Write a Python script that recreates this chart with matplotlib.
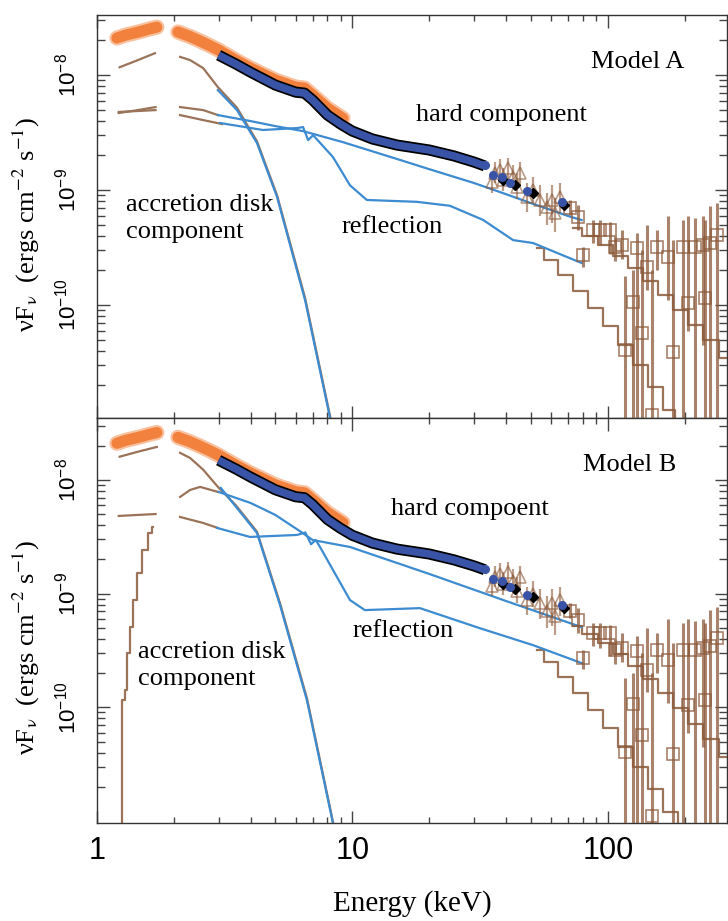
import numpy as np
import matplotlib
matplotlib.use('Agg')
import matplotlib.pyplot as plt
from matplotlib.ticker import FixedLocator, LogLocator, NullFormatter, FuncFormatter

plt.rcParams['font.family'] = ['Liberation Sans', 'DejaVu Sans']
plt.rcParams['axes.linewidth'] = 1.0

# ---------------- data (shared by both panels) ----------------
# soft X-ray data (orange band), two segments
soft1_x = [1.20, 1.30, 1.40, 1.50, 1.60, 1.72]
soft1_y = [2.10e-8, 2.23e-8, 2.32e-8, 2.41e-8, 2.51e-8, 2.61e-8]
soft2_x = [2.08, 2.3, 2.5, 2.75, 3.0, 3.5, 4.0, 5.0, 6.0, 6.5, 7.0, 8.0, 9.2]
soft2_y = [2.37e-8, 2.18e-8, 2.01e-8, 1.82e-8, 1.65e-8, 1.35e-8, 1.15e-8,
           9.05e-9, 7.86e-9, 7.7e-9, 6.7e-9, 5.16e-9, 4.2e-9]

# hard X-ray data, dense part (blue band with black edge)
hard_x = [3, 3.5, 4, 5, 6, 6.5, 7, 8, 9, 10, 12, 15, 20, 25, 30, 33]
hard_y = [1.49e-8, 1.25e-8, 1.06e-8, 8.19e-9, 7.11e-9, 6.97e-9, 6.07e-9, 4.49e-9,
          3.75e-9, 3.26e-9, 2.78e-9, 2.46e-9, 2.23e-9, 1.98e-9, 1.75e-9, 1.62e-9]
# sparse high-energy points
circ_x = [33.1, 35.6, 38.6, 41.5, 48.3, 65.9]
circ_y = [1.65e-9, 1.35e-9, 1.30e-9, 1.15e-9, 9.8e-10, 7.9e-10]
diam_x = [39.0, 43.2, 51.0, 67.6]
diam_y = [1.22e-9, 1.10e-9, 9.4e-10, 7.4e-10]

# triangles with error bars
tri_x = [35.3, 36.2, 37.9, 38.9, 40.7, 42.6, 44.2, 45.4, 48.3, 51.0, 54.3, 57.8, 60.5, 62.2, 65.0]
tri_y = [1.17e-9, 1.41e-9, 1.49e-9, 1.22e-9, 1.55e-9, 1.30e-9, 1.06e-9, 1.41e-9,
         8.7e-10, 1.0e-9, 8.2e-10, 7.1e-10, 8.2e-10, 6.3e-10, 8.7e-10]
tri_hi = [1.45e-9, 1.75e-9, 1.85e-9, 1.55e-9, 1.9e-9, 1.65e-9, 1.4e-9, 1.75e-9,
          1.15e-9, 1.3e-9, 1.1e-9, 9.5e-10, 1.1e-9, 8.5e-10, 1.15e-9]
tri_lo = [9.5e-10, 1.15e-9, 1.2e-9, 9.8e-10, 1.25e-9, 1.05e-9, 8.3e-10, 1.1e-9,
          6.5e-10, 7.7e-10, 6.0e-10, 5.0e-10, 5.2e-10, 4.3e-10, 6.3e-10]

# squares with error bars
sq_x = [71.3, 76.6, 80.0, 87.6, 93.3, 102, 107, 114, 117, 125, 130, 136, 143, 149,
        156, 172, 180, 197, 206, 220, 236, 240, 252, 268]
sq_y = [6.97e-10, 5.82e-10, 2.72e-10, 4.49e-10, 4.49e-10, 4.49e-10, 3.19e-10, 3.32e-10,
        4.06e-11, 1.06e-10, 3.13e-10, 5.7e-11, 2.14e-10, 1.1e-11, 3.19e-10, 2.61e-10,
        3.9e-11, 3.19e-10, 1.04e-10, 3.19e-10, 3.32e-10, 1.15e-10, 3.46e-10, 4.06e-10]
sq_hi = [8.2e-10, 7.4e-10, 3.2e-10, 5.5e-10, 5.5e-10, 5.3e-10, 4.0e-10, 4.5e-10,
         1.8e-10, 2.0e-10, 4.2e-10, 3.0e-10, 5.0e-10, 2.0e-10, 4.5e-10, 6.0e-10,
         3.7e-10, 5.5e-10, 6.0e-10, 5.7e-10, 6.0e-10, 5.5e-10, 7.2e-10, 7.7e-10]
sq_lo = [6.1e-10, 4.5e-10, 2.15e-10, 3.45e-10, 3.3e-10, 2.8e-10, 2.4e-10, 2.5e-10,
         5e-12, 5e-12, 5e-12, 5e-12, 1.35e-10, 5e-12, 2.0e-10, 1.1e-10,
         5e-12, 5e-12, 6.0e-11, 5e-12, 4.5e-11, 5e-12, 5e-12, 5e-12]

# ---------------- Model A components ----------------
a_disk1_x = [1.23, 1.45, 1.69]
a_disk1_y = [1.17e-8, 1.35e-8, 1.55e-8]
a_disk2_x = [2.12, 2.32, 2.61, 2.98, 3.54, 4.24, 5.08, 6.54, 8.19, 8.6]
a_disk2_y = [1.44e-8, 1.35e-8, 1.15e-8, 7.86e-9, 5.2e-9, 2.65e-9, 9.0e-10, 1.15e-10, 1.08e-11, 5e-12]
a_pl1_x = [1.22, 1.45, 1.70]
a_pl1_y = [4.68e-9, 4.96e-9, 5.27e-9]
a_rf1_x = [1.22, 1.45, 1.70]
a_rf1_y = [4.78e-9, 4.87e-9, 4.96e-9]
a_pl2_x = [2.12, 2.61, 2.98]
a_pl2_y = [5.27e-9, 4.96e-9, 4.49e-9]
a_rf2_x = [2.12, 2.61, 3.1]
a_rf2_y = [4.49e-9, 4.06e-9, 3.75e-9]

a_bdisk_x = [2.98, 3.54, 4.24, 5.08, 6.54, 8.19, 8.6]
a_bdisk_y = [7.4e-9, 4.96e-9, 2.56e-9, 8.7e-10, 1.10e-10, 1.04e-11, 5e-12]
a_hard_x = [2.98, 4.0, 5.0, 6.4, 9.2, 15, 20, 30, 40, 50, 60, 70, 79]
a_hard_y = [4.49e-9, 3.98e-9, 3.60e-9, 3.26e-9, 2.61e-9, 1.86e-9, 1.52e-9, 1.15e-9,
            9.2e-10, 7.7e-10, 6.7e-10, 5.94e-10, 5.48e-10]
a_refl_x = [3.04, 4.47, 6.08, 6.42, 6.72, 7.03, 8.40, 9.80, 11.4, 17.9, 24.1, 32.5, 42.6, 51.0, 79]
a_refl_y = [3.83e-9, 3.33e-9, 3.46e-9, 3.53e-9, 2.72e-9, 3.0e-9, 1.94e-9, 1.10e-9, 8.2e-10,
            7.9e-10, 7.3e-10, 5.5e-10, 3.67e-10, 3.46e-10, 2.32e-10]

a_hi1_x = [73.1, 85.2, 97.6, 111.7, 127.9, 146.4, 167.6, 191.9, 219.6, 251.4, 295.7]
a_hi1_y = [4.68e-10, 3.98e-10, 3.33e-10, 2.67e-10, 2.10e-10, 1.62e-10, 1.22e-10,
           9.05e-11, 6.70e-11, 4.96e-11, 3.46e-11]
a_hi2_x = [52.9, 59.5, 68.1, 77.9, 89.2, 102.1, 116.9, 133.8, 153.1, 175.3, 191.9]
a_hi2_y = [3.13e-10, 2.46e-10, 1.82e-10, 1.32e-10, 9.4e-11, 6.57e-11, 4.49e-11,
           3.01e-11, 1.94e-11, 1.22e-11, 9.1e-12]

# ---------------- Model B components ----------------
b_disk1_x = [1.23, 1.45, 1.72]
b_disk1_y = [1.60e-8, 1.77e-8, 1.95e-8]
b_disk2_x = [2.12, 2.32, 2.61, 2.98, 3.5, 4.24, 5.22, 6.65, 8.41, 8.8]
b_disk2_y = [1.73e-8, 1.56e-8, 1.23e-8, 8.68e-9, 6.0e-9, 3.5e-9, 8.2e-10, 1.2e-10, 9.8e-12, 5e-12]
b_comp1_x = [1.25, 1.268, 1.314, 1.326, 1.374, 1.412, 1.477, 1.545, 1.617, 1.661]
b_comp1_y = [5e-12, 1.15e-10, 1.41e-10, 2.99e-10, 5.07e-10, 8.77e-10, 1.52e-9, 2.42e-9,
             3.41e-9, 3.85e-9]
b_comp2_x = [2.12, 2.32, 2.54, 2.98]
b_comp2_y = [7.08e-9, 8.16e-9, 8.68e-9, 7.84e-9]
b_rf1_x = [1.22, 1.45, 1.70]
b_rf1_y = [4.82e-9, 4.92e-9, 5.01e-9]
b_rf2_x = [2.12, 2.61, 2.98]
b_rf2_y = [4.72e-9, 4.18e-9, 3.78e-9]

b_bdisk_x = [3.06, 4.24, 5.22, 6.65, 8.41, 8.8]
b_bdisk_y = [8.5e-9, 3.41e-9, 7.9e-10, 1.15e-10, 9.5e-12, 5e-12]
b_hard_x = [3.0, 4.0, 5.0, 6.4, 7.0, 9.8, 20, 40, 79]
b_hard_y = [7.84e-9, 6.27e-9, 4.92e-9, 3.41e-9, 2.96e-9, 2.57e-9, 1.49e-9, 8.6e-10, 5.07e-10]
b_refl_x = [2.96, 3.98, 6.08, 6.55, 6.9, 7.2, 7.48, 9.80, 11.2, 18.4, 31.6, 51.0, 79.3]
b_refl_y = [3.78e-9, 3.15e-9, 3.28e-9, 3.45e-9, 2.72e-9, 2.96e-9, 2.57e-9, 8.77e-10,
            7.16e-10, 7.45e-10, 4.96e-10, 3.52e-10, 2.44e-10]

b_hi1_x = [73.1, 85.2, 97.6, 111.7, 127.9, 146.4, 167.6, 191.9, 219.6, 251.4, 295.7]
b_hi1_y = [5.18e-10, 4.40e-10, 3.66e-10, 2.93e-10, 2.30e-10, 1.77e-10, 1.33e-10,
           9.8e-11, 7.2e-11, 5.22e-11, 3.62e-11]
b_hi2_x = [52.9, 59.5, 68.1, 77.9, 89.2, 102.1, 116.9, 133.8, 153.1, 175.3, 200.6]
b_hi2_y = [3.18e-10, 2.49e-10, 1.84e-10, 1.33e-10, 9.4e-11, 6.54e-11, 4.44e-11,
           2.96e-11, 1.90e-11, 1.19e-11, 7.4e-12]

ORANGE = '#f27a32'
BROWN = '#8c5a3a'
BROWN_LINE = '#9a7358'
BLUE_LINE = '#3d8bd0'
BLUE_DATA = '#3954a6'
SERIF = ['Liberation Serif', 'DejaVu Serif']


def draw_data(ax):
    # orange band: a soft halo plus a solid core
    for xs, ys in [(soft1_x, soft1_y), (soft2_x, soft2_y)]:
        ax.plot(xs, ys, color=ORANGE, lw=11, alpha=0.45, solid_capstyle='round', zorder=3)
        ax.plot(xs, ys, color=ORANGE, lw=8, alpha=0.9, solid_capstyle='round', zorder=3)
    ax.plot(hard_x, hard_y, color='black', lw=8, solid_capstyle='butt', zorder=5)
    ax.plot(hard_x, hard_y, color=BLUE_DATA, lw=5.5, solid_capstyle='butt', zorder=6)
    ax.plot(diam_x, diam_y, 'D', color='black', ms=5.5, zorder=6)
    ax.plot(circ_x, circ_y, 'o', color=BLUE_DATA, ms=5.5, zorder=6)
    ty = np.array(tri_y)
    ax.errorbar(tri_x, tri_y, yerr=[ty - np.array(tri_lo), np.array(tri_hi) - ty],
                fmt='^', mfc='none', mec=BROWN, ecolor=BROWN, ms=8, mew=1.2,
                elinewidth=1.6, capsize=0, alpha=0.6, zorder=4)
    sy = np.array(sq_y)
    ax.errorbar(sq_x, sq_y, yerr=[sy - np.array(sq_lo), np.array(sq_hi) - sy],
                fmt='s', mfc='none', mec=BROWN, ecolor=BROWN, ms=8, mew=1.2,
                elinewidth=2.2, capsize=0, alpha=0.75, zorder=4)


def draw_model(ax, brown_lines, blue_lines, stair_lines):
    for xs, ys in brown_lines:
        ax.plot(xs, ys, color=BROWN_LINE, lw=1.6, zorder=2)
    for xs, ys in stair_lines:
        ax.plot(xs, ys, color=BROWN_LINE, lw=1.6, drawstyle='steps-mid', zorder=2)
    for xs, ys in blue_lines:
        ax.plot(xs, ys, color=BLUE_LINE, lw=1.6, zorder=2.5)


def style_axes(ax, ymin, ymax):
    ax.set_xscale('log')
    ax.set_yscale('log')
    ax.set_xlim(1, 294)
    ax.set_ylim(ymin, ymax)
    ax.xaxis.set_major_locator(FixedLocator([1, 10, 100]))
    ax.xaxis.set_major_formatter(FuncFormatter(lambda v, p: f'{v:g}'))
    ax.xaxis.set_minor_locator(LogLocator(base=10, subs=np.arange(2, 10), numticks=20))
    ax.xaxis.set_minor_formatter(NullFormatter())
    ax.yaxis.set_major_locator(FixedLocator([1e-10, 1e-9, 1e-8]))
    ax.yaxis.set_minor_locator(LogLocator(base=10, subs=np.arange(2, 10), numticks=20))
    ax.yaxis.set_minor_formatter(NullFormatter())
    ax.tick_params(which='both', direction='in', top=True, right=True, color='#444444', width=1)
    ax.tick_params(axis='x', which='major', length=9, labelsize=22, pad=9)
    ax.tick_params(axis='x', which='minor', length=4.5)
    ax.tick_params(axis='y', which='major', length=9, labelsize=16, pad=12, labelrotation=90)
    ax.tick_params(axis='y', which='minor', length=5.5)
    for lab in ax.get_yticklabels():
        lab.set_va('center')
    for s in ax.spines.values():
        s.set_color('#333333')
    ax.set_ylabel(r'νF$_{\mathrm{\nu}}$  (ergs cm$^{-2}$ s$^{-1}$)', fontsize=19,
                  family=SERIF, math_fontfamily='stix')


fig = plt.figure(figsize=(7.28, 9.21), dpi=100)
ax1 = fig.add_axes([0.1328, 0.5461, 0.8665, 0.4376])
ax2 = fig.add_axes([0.1328, 0.1064, 0.8665, 0.4397])

# panel A
draw_data(ax1)
draw_model(ax1,
           [(a_disk1_x, a_disk1_y), (a_disk2_x, a_disk2_y), (a_pl1_x, a_pl1_y),
            (a_rf1_x, a_rf1_y), (a_pl2_x, a_pl2_y), (a_rf2_x, a_rf2_y)],
           [(a_bdisk_x, a_bdisk_y), (a_hard_x, a_hard_y), (a_refl_x, a_refl_y)],
           [(a_hi1_x, a_hi1_y), (a_hi2_x, a_hi2_y)])
style_axes(ax1, 1.04e-11, 3.33e-8)
ax1.tick_params(labelbottom=False)
ax1.yaxis.set_label_coords(-0.087, 0.479)
ax1.text(0.857, 0.883, 'Model A', transform=ax1.transAxes, fontsize=19, family=SERIF,
         ha='center', va='center')
ax1.text(0.641, 0.752, 'hard component', transform=ax1.transAxes, fontsize=19, family=SERIF,
         ha='center', va='center')
ax1.text(0.468, 0.474, 'reflection', transform=ax1.transAxes, fontsize=19, family=SERIF,
         ha='center', va='center')
ax1.text(0.0465, 0.494, 'accretion disk\ncomponent', transform=ax1.transAxes, fontsize=19,
         family=SERIF, ha='left', va='center', linespacing=1.3)

# panel B
draw_data(ax2)
draw_model(ax2,
           [(b_disk1_x, b_disk1_y), (b_disk2_x, b_disk2_y), (b_comp2_x, b_comp2_y),
            (b_rf1_x, b_rf1_y), (b_rf2_x, b_rf2_y)],
           [(b_bdisk_x, b_bdisk_y), (b_hard_x, b_hard_y), (b_refl_x, b_refl_y)],
           [(b_comp1_x, b_comp1_y), (b_hi1_x, b_hi1_y), (b_hi2_x, b_hi2_y)])
style_axes(ax2, 9.6e-12, 3.5e-8)
ax2.yaxis.set_label_coords(-0.087, 0.432)
ax2.text(0.845, 0.884, 'Model B', transform=ax2.transAxes, fontsize=19, family=SERIF,
         ha='center', va='center')
ax2.text(0.592, 0.775, 'hard compoent', transform=ax2.transAxes, fontsize=19, family=SERIF,
         ha='center', va='center')
ax2.text(0.486, 0.474, 'reflection', transform=ax2.transAxes, fontsize=19, family=SERIF,
         ha='center', va='center')
ax2.text(0.0655, 0.388, 'accretion disk\ncomponent', transform=ax2.transAxes, fontsize=19,
         family=SERIF, ha='left', va='center', linespacing=1.3)
ax2.set_xlabel('Energy (keV)', fontsize=21, family=SERIF, labelpad=18)

fig.savefig('out.png', dpi=100)
